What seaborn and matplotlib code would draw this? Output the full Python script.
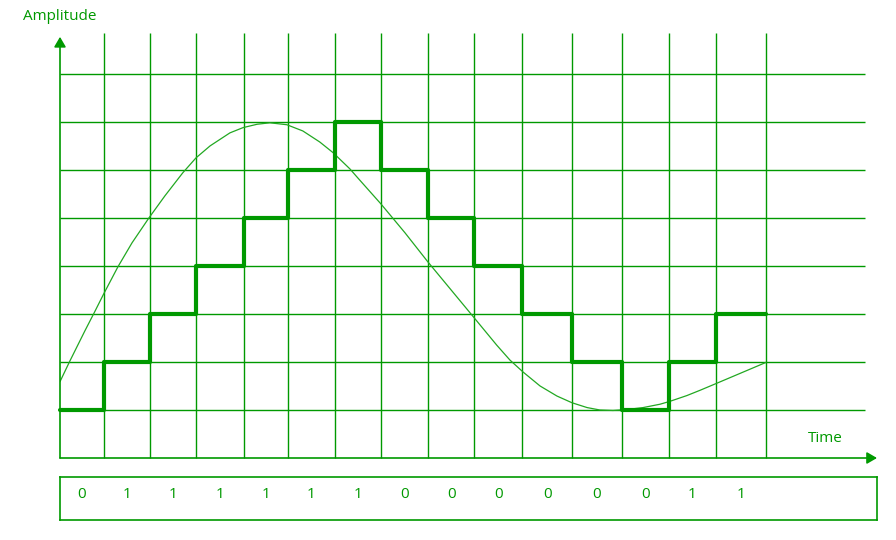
import pandas as pd
import matplotlib.pyplot as plt
import seaborn as sns

# sampling instants (time units)
sample_times = [0.00, 0.93, 1.91, 2.89, 3.91, 4.84, 5.84, 6.82, 7.82,
                8.80, 9.82, 10.88, 11.94, 12.94, 13.94, 15.00]
# staircase level held during each interval
step_levels = [1, 2, 3, 4, 5, 6, 7, 6, 5, 4, 3, 2, 1, 2, 3]
bits = ["0", "1", "1", "1", "1", "1", "1", "0", "0", "0", "0", "0", "0", "1", "1"]
grid_levels = [1, 2, 3, 4, 5, 6, 7, 8]

# analog message signal
signal_t = [0.00, 0.21, 0.53, 0.74, 0.93, 1.23, 1.53, 1.89, 2.23, 2.61, 2.89,
            3.19, 3.61, 3.89, 4.19, 4.46, 4.82, 5.16, 5.52, 5.80, 6.16, 6.33,
            6.82, 7.33, 7.82, 8.31, 8.80, 9.28, 9.56, 9.84, 10.20, 10.56, 10.88,
            11.20, 11.47, 11.75, 12.05, 12.39, 12.75, 12.96, 13.32, 13.60, 13.94,
            14.47, 15.00]
signal_a = [1.59, 2.02, 2.65, 3.05, 3.42, 3.98, 4.48, 5.00, 5.46, 5.94, 6.25,
            6.50, 6.77, 6.88, 6.95, 6.98, 6.94, 6.81, 6.58, 6.36, 6.02, 5.83,
            5.29, 4.69, 4.08, 3.50, 2.92, 2.35, 2.04, 1.79, 1.50, 1.29, 1.15,
            1.05, 1.00, 0.99, 1.01, 1.05, 1.12, 1.18, 1.30, 1.41, 1.55,
            1.77, 1.99]

GREEN = "#009900"
XMAX, YMAX = 17.36, 8.85


def main():
    sns.set_style("white")
    plt.rcParams["font.family"] = ["Open Sans", "DejaVu Sans"]

    fig = plt.figure(figsize=(8.96, 5.4), dpi=100)
    ax = fig.add_axes([60 / 896, 82 / 540, 817 / 896, 425 / 540])
    ax.set_xlim(0, XMAX)
    ax.set_ylim(0, YMAX)
    ax.axis("off")

    # grid
    ax.vlines(sample_times[1:], 0, YMAX, color=GREEN, lw=1.0, clip_on=False)
    ax.hlines(grid_levels, 0, 17.10, color=GREEN, lw=1.0, clip_on=False)

    # axes with arrows
    arrow = dict(arrowstyle="-|>,head_length=0.6,head_width=0.35", color=GREEN,
                 lw=1.2, mutation_scale=10, shrinkA=0, shrinkB=0)
    ax.annotate("", xy=(0, 8.77), xytext=(0, 0), arrowprops=arrow, annotation_clip=False)
    ax.annotate("", xy=(XMAX, 0), xytext=(0, 0), arrowprops=arrow, annotation_clip=False)

    # message signal
    sig = pd.DataFrame({"t": signal_t, "a": signal_a})
    sns.lineplot(data=sig, x="t", y="a", ax=ax, color="#22a822", lw=0.9, sort=False)

    # staircase approximation
    stairs = pd.DataFrame({"t": sample_times, "level": step_levels + step_levels[-1:]})
    sns.lineplot(data=stairs, x="t", y="level", ax=ax, color=GREEN, lw=3.0,
                 drawstyle="steps-post", clip_on=False)

    ax.text(0, 9.19, "Amplitude", color=GREEN, fontsize=11, ha="center", va="center",
            clip_on=False)
    ax.text(16.27, 0.40, "Time", color=GREEN, fontsize=11, ha="center", va="center")

    # bit stream box
    box = fig.add_axes([60 / 896, 20 / 540, 817 / 896, 43 / 540])
    box.set_xlim(0, XMAX)
    box.set_ylim(0, 1)
    box.set_xticks([])
    box.set_yticks([])
    for sp in box.spines.values():
        sp.set_color(GREEN)
        sp.set_linewidth(1.2)
    for i, b in enumerate(bits):
        mid = (sample_times[i] + sample_times[i + 1]) / 2
        box.text(mid, 0.6, b, color=GREEN, fontsize=11, ha="center", va="center")

    fig.savefig("out.png", dpi=100)
    plt.close(fig)


if __name__ == "__main__":
    main()
